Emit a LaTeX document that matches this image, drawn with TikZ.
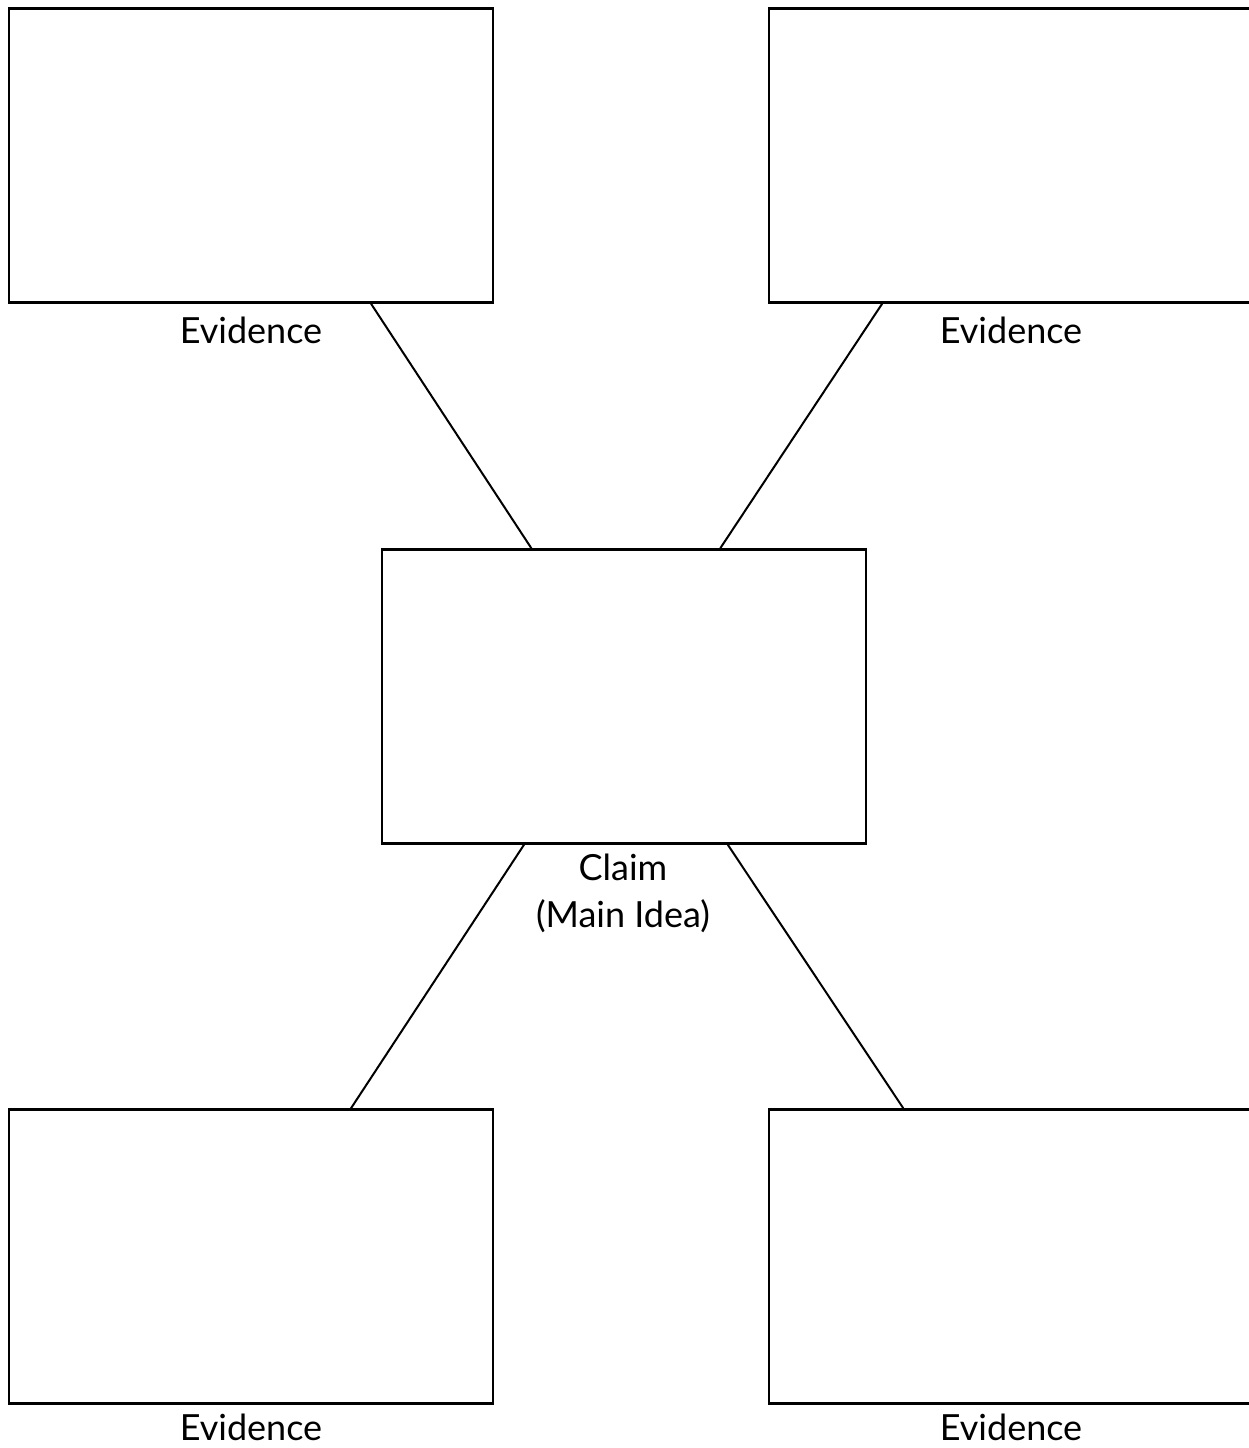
\documentclass[tikz,border=0pt]{standalone}
\usepackage{fontspec}
\setmainfont{Lato}
\usepackage{tikz}
\usetikzlibrary{positioning}

\tikzset{
  box/.style={draw, line width=2.5pt, minimum width=484pt, minimum height=294pt, inner sep=0pt},
  lbl/.style={font=\fontsize{36}{47}\selectfont, align=center, inner sep=0pt},
  link/.style={line width=2pt}
}

\begin{document}
\begin{tikzpicture}[x=1pt,y=-1pt]
    \useasboundingbox (0,0) rectangle (1248,1448);
    % claim in the middle
    \node[box] (claim) at (624,696.5) {};
    \node[lbl, anchor=base] (claim-lbl) at (623,927) {Claim\\(Main Idea)};
    % four evidence boxes
    \foreach \n/\x/\y/\b in {tl/251/155.5/343, tr/1011/155.5/343, bl/251/1256.5/1440, br/1011/1256.5/1440}{
      \node[box] (\n) at (\x,\y) {};
      \node[lbl, anchor=base] (\n-lbl) at (\x,\b) {Evidence};}
    \draw[link] (tl.-51) -- (claim.122);
    \draw[link] (tr.-131.4) -- (claim.57.4);
    \draw[link] (claim.-124) -- (bl.56.3);
    \draw[link] (claim.-55.3) -- (br.126.5);
  \end{tikzpicture}
\end{document}
